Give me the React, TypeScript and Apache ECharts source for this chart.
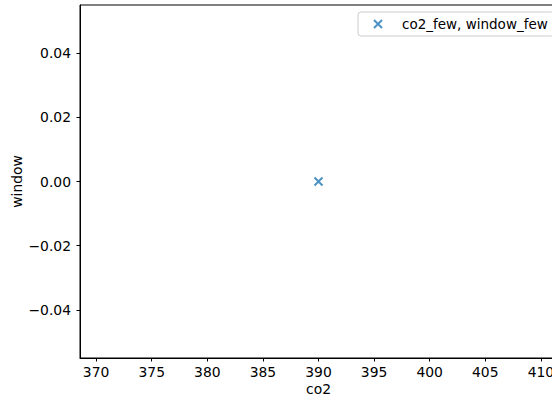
import React, { useEffect, useRef } from "react";
import * as echarts from "echarts";

const seriesName = "co2_few, window_few";
const co2Values = [390];
const windowValues = [0];
const xTicks = [370, 375, 380, 385, 390, 395, 400, 405, 410];
const yTicks = [-0.04, -0.02, 0, 0.02, 0.04];
const xRange = [368.55, 411.45];
const yRange = [-0.055, 0.055];

const FONT = "DejaVu Sans";
const BLUE = "#1f77b4";
const X_SYMBOL = "path://M0,0L10,10M10,0L0,10";

export default function App() {
  const ref = useRef<HTMLDivElement>(null);
  useEffect(() => {
    if (!ref.current) return;
    const chart = echarts.init(ref.current, undefined, { renderer: "svg" });
    const fmtY = (v: number) => v.toFixed(2).replace("-", "\u2212");
    chart.setOption({
      animation: false,
      backgroundColor: "#ffffff",
      textStyle: { fontFamily: FONT },
      grid: {
        left: 80,
        top: 5,
        width: 477,
        height: 353,
        show: true,
        borderColor: "#000",
        borderWidth: 1,
        backgroundColor: "transparent",
        outerBoundsMode: "none",
        containLabel: false,
      },
      legend: {
        show: true,
        left: 358,
        top: 12,
        orient: "horizontal",
        padding: [5, 7, 5, 15],
        itemWidth: 8,
        itemHeight: 8,
        borderColor: "#cccccc",
        borderWidth: 1,
        borderRadius: 3,
        backgroundColor: "rgba(255,255,255,0.8)",
        formatter: (name: string) => "{s| }{t|" + name + "}",
        textStyle: {
          fontFamily: FONT,
          fontSize: 13.5,
          color: "#000",
          rich: {
            s: { width: 15, fontSize: 13.5 },
            t: { fontFamily: FONT, fontSize: 13.5, color: "#000" },
          },
        },
        data: [
          {
            name: seriesName,
            icon: X_SYMBOL,
            itemStyle: { color: "transparent", borderColor: BLUE, borderWidth: 2 },
          },
        ],
      },
      xAxis: {
        type: "value",
        min: xRange[0],
        max: xRange[1],
        name: "co2",
        nameLocation: "middle",
        nameGap: 24,
        nameMoveOverlap: false,
        nameTextStyle: { fontFamily: FONT, fontSize: 13.9, color: "#000" },
        splitLine: { show: false },
        axisLine: { show: true, onZero: false, lineStyle: { color: "#000", width: 1 } },
        axisTick: { show: true, length: 3.5, customValues: xTicks, lineStyle: { color: "#000" } },
        axisLabel: {
          customValues: xTicks,
          margin: 7,
          fontFamily: FONT,
          fontSize: 13.9,
          color: "#000",
          formatter: (v: number) => String(Math.round(v)),
        },
      },
      yAxis: {
        type: "value",
        min: yRange[0],
        max: yRange[1],
        name: "window",
        nameLocation: "middle",
        nameGap: 56,
        nameMoveOverlap: false,
        nameTextStyle: { fontFamily: FONT, fontSize: 13.9, color: "#000" },
        splitLine: { show: false },
        axisLine: { show: true, onZero: false, lineStyle: { color: "#000", width: 1 } },
        axisTick: { show: true, length: 3.5, customValues: yTicks, lineStyle: { color: "#000" } },
        axisLabel: {
          customValues: yTicks,
          margin: 9,
          fontFamily: FONT,
          fontSize: 13.9,
          color: "#000",
          formatter: fmtY,
        },
      },
      series: [
        {
          name: seriesName,
          type: "scatter",
          symbol: X_SYMBOL,
          symbolSize: 8,
          itemStyle: { color: "transparent", borderColor: BLUE, borderWidth: 2 },
          data: co2Values.map((x, i) => [x, windowValues[i]]),
        },
      ],
    });
    return () => chart.dispose();
  }, []);
  return (
    <div
      ref={ref}
      style={{ position: "absolute", left: 0, top: 0, width: 552, height: 401 }}
    />
  );
}
